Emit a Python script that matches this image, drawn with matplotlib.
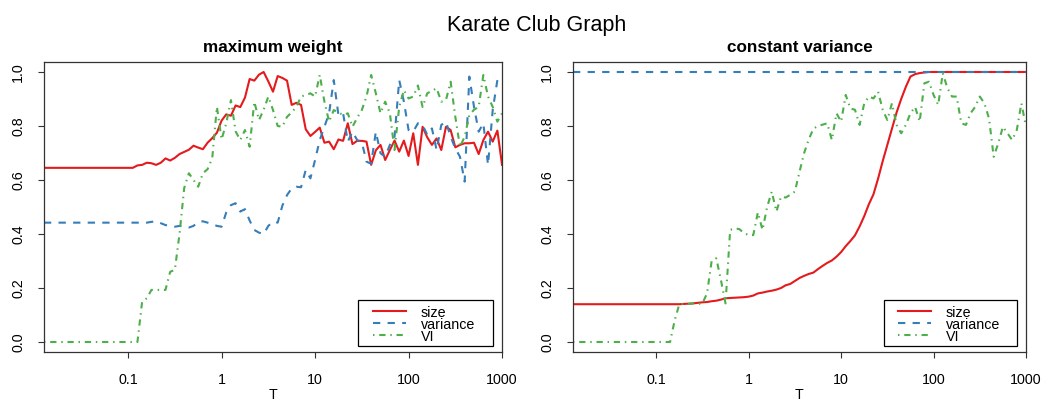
import numpy as np
import matplotlib.pyplot as plt
from matplotlib.patches import Rectangle
from matplotlib.lines import Line2D

plt.rcParams['font.family'] = ['Liberation Sans', 'DejaVu Sans']

# temperature grid, 20 steps per decade
T = np.logspace(-1.9, 3, 99)

# maximum weight
mw_size = [0.645] * 20 + [
    0.654, 0.656, 0.664, 0.662, 0.656, 0.664, 0.680, 0.672, 0.682, 0.696,
    0.704, 0.712, 0.727, 0.720, 0.714, 0.738, 0.755, 0.775, 0.820, 0.843,
    0.838, 0.876, 0.870, 0.905, 0.974, 0.968, 0.990, 1.000, 0.965, 0.927,
    0.985, 0.978, 0.968, 0.878, 0.886, 0.878, 0.788, 0.763, 0.778, 0.794,
    0.738, 0.742, 0.714, 0.750, 0.745, 0.810, 0.733, 0.745, 0.745, 0.742,
    0.656, 0.710, 0.730, 0.674, 0.711, 0.746, 0.705, 0.746, 0.689, 0.773,
    0.656, 0.797, 0.758, 0.730, 0.754, 0.711, 0.797, 0.785, 0.721, 0.730,
    0.736, 0.736, 0.738, 0.696, 0.748, 0.779, 0.742, 0.783, 0.656]
mw_var = [0.442] * 23 + [
    0.445, 0.447, 0.440, 0.433, 0.430, 0.427, 0.430,
    0.427, 0.424, 0.430, 0.445, 0.447, 0.442, 0.437, 0.430, 0.427, 0.480,
    0.507, 0.514, 0.483, 0.492, 0.450, 0.415, 0.405, 0.400, 0.430, 0.446,
    0.442, 0.505, 0.544, 0.569, 0.575, 0.573, 0.637, 0.606, 0.674, 0.748,
    0.797, 0.847, 0.970, 0.840, 0.847, 0.742, 0.779, 0.748, 0.740, 0.668,
    0.660, 0.779, 0.699, 0.686, 0.730, 0.760, 0.970, 0.890, 0.785, 0.779,
    0.810, 0.804, 0.767, 0.791, 0.711, 0.804, 0.816, 0.760, 0.717, 0.686,
    0.594, 0.983, 0.871, 0.779, 0.810, 0.656, 0.859, 0.970, 0.970]
mw_vi = [0.0] * 21 + [
    0.149, 0.162, 0.193, 0.193, 0.193, 0.193, 0.260, 0.267, 0.400,
    0.570, 0.625, 0.600, 0.575, 0.625, 0.640, 0.680, 0.871, 0.750, 0.810,
    0.896, 0.780, 0.748, 0.785, 0.723, 0.890, 0.822, 0.860, 0.909, 0.859,
    0.800, 0.797, 0.834, 0.850, 0.871, 0.909, 0.915, 0.921, 0.909, 0.989,
    0.890, 0.816, 0.859, 0.850, 0.841, 0.847, 0.797, 0.830, 0.859, 0.909,
    0.989, 0.921, 0.847, 0.890, 0.847, 0.711, 0.871, 0.933, 0.902, 0.909,
    0.950, 0.870, 0.921, 0.930, 0.940, 0.890, 0.896, 0.964, 0.834, 0.723,
    0.760, 0.841, 0.860, 0.871, 0.989, 0.909, 0.871, 0.816, 0.847]

# constant variance
cv_size = [0.140] * 24 + [
    0.141, 0.142, 0.143, 0.145, 0.147, 0.148,
    0.151, 0.153, 0.157, 0.162, 0.163, 0.164, 0.165, 0.166, 0.168, 0.172,
    0.180, 0.183, 0.187, 0.190, 0.194, 0.200, 0.210, 0.215, 0.226, 0.237,
    0.245, 0.252, 0.257, 0.270, 0.282, 0.293, 0.302, 0.316, 0.333, 0.355,
    0.374, 0.395, 0.428, 0.466, 0.510, 0.547, 0.605, 0.670, 0.730, 0.790,
    0.850, 0.900, 0.945, 0.983, 0.992, 0.996, 0.998, 1.0, 1.0, 1.0] + [1.0] * 19
cv_var = [1.0] * 99
cv_vi = [0.0] * 22 + [
    0.080, 0.140, 0.141, 0.141, 0.143, 0.141, 0.143, 0.180,
    0.300, 0.310, 0.230, 0.143, 0.415, 0.421, 0.418, 0.403, 0.396, 0.396,
    0.480, 0.415, 0.500, 0.557, 0.483, 0.538, 0.535, 0.545, 0.557, 0.630,
    0.700, 0.750, 0.790, 0.800, 0.805, 0.810, 0.748, 0.847, 0.816, 0.915,
    0.865, 0.860, 0.804, 0.884, 0.909, 0.902, 0.927, 0.860, 0.822, 0.884,
    0.804, 0.773, 0.804, 0.847, 0.871, 0.816, 0.958, 0.964, 0.915, 0.878,
    0.995, 0.940, 0.909, 0.909, 0.810, 0.804, 0.847, 0.871, 0.909, 0.884,
    0.828, 0.686, 0.736, 0.797, 0.773, 0.748, 0.785, 0.884, 0.797]

xticks = [0.1, 1, 10, 100, 1000]
xlabels = ['0.1', '1', '10', '100', '1000']
yticks = [0.0, 0.2, 0.4, 0.6, 0.8, 1.0]
ylabels = ['0.0', '0.2', '0.4', '0.6', '0.8', '1.0']
names = ['size', 'variance', 'VI']

red = '#E41A1C'
blue = '#377EB8'
green = '#4DAF4A'
lw = 1.5
styles = [dict(color=red, lw=lw, ls='-'),
          dict(color=blue, lw=lw, ls=(0, (3.5, 3.5))),
          dict(color=green, lw=lw, ls=(0, (0.7, 2.3, 3.0, 2.3)))]


def legend_box(ax):
    # boxed legend in the lower right, rows packed tight like R's legend()
    tr = ax.transAxes
    ax.add_patch(Rectangle((0.686, 0.0207), 0.294, 0.158, transform=tr,
                           fill=True, facecolor='white', edgecolor='black',
                           lw=0.9, zorder=5))
    rows = [0.1414, 0.1000, 0.0586]
    for name, st, y in zip(names, styles, rows):
        ax.add_line(Line2D([0.7183, 0.7904], [y, y], transform=tr,
                           zorder=6, **st))
        ax.text(0.823, y - 0.0207, name, transform=tr, fontsize=10.3,
                va='baseline', ha='left', zorder=6)


def panel(ax, size, var, vi, title):
    for vals, st in zip([size, var, vi], styles):
        ax.plot(T, vals, **st)
    ax.set_xscale('log')
    ax.set_xlim(10 ** -1.9, 1000)
    ax.set_ylim(-0.037, 1.037)
    ax.set_xticks(xticks)
    ax.set_xticklabels(xlabels)
    ax.minorticks_off()
    ax.set_yticks(yticks)
    ax.set_yticklabels(ylabels, rotation=90, va='center')
    ax.tick_params(labelsize=10.3, length=4, width=0.8, color='#333333')
    ax.tick_params(axis='x', pad=11)
    ax.tick_params(axis='y', pad=9.5)
    for s in ax.spines.values():
        s.set_linewidth(0.9)
        s.set_color('#333333')
    ax.set_title(title, fontsize=12.3, fontweight='bold', pad=7)
    ax.set_xlabel('T', fontsize=10.3, labelpad=1)
    legend_box(ax)


fig = plt.figure(figsize=(10.49, 4.01), dpi=100)
ax1 = fig.add_axes([0.0419, 0.1222, 0.4367, 0.7232])
ax2 = fig.add_axes([0.5462, 0.1222, 0.4319, 0.7232])

panel(ax1, mw_size, mw_var, mw_vi, 'maximum weight')
panel(ax2, cv_size, cv_var, cv_vi, 'constant variance')

fig.text(537 / 1049, 1 - 31 / 401, 'Karate Club Graph', ha='center',
         va='baseline', fontsize=15.5)

fig.savefig('out.png', dpi=100)
